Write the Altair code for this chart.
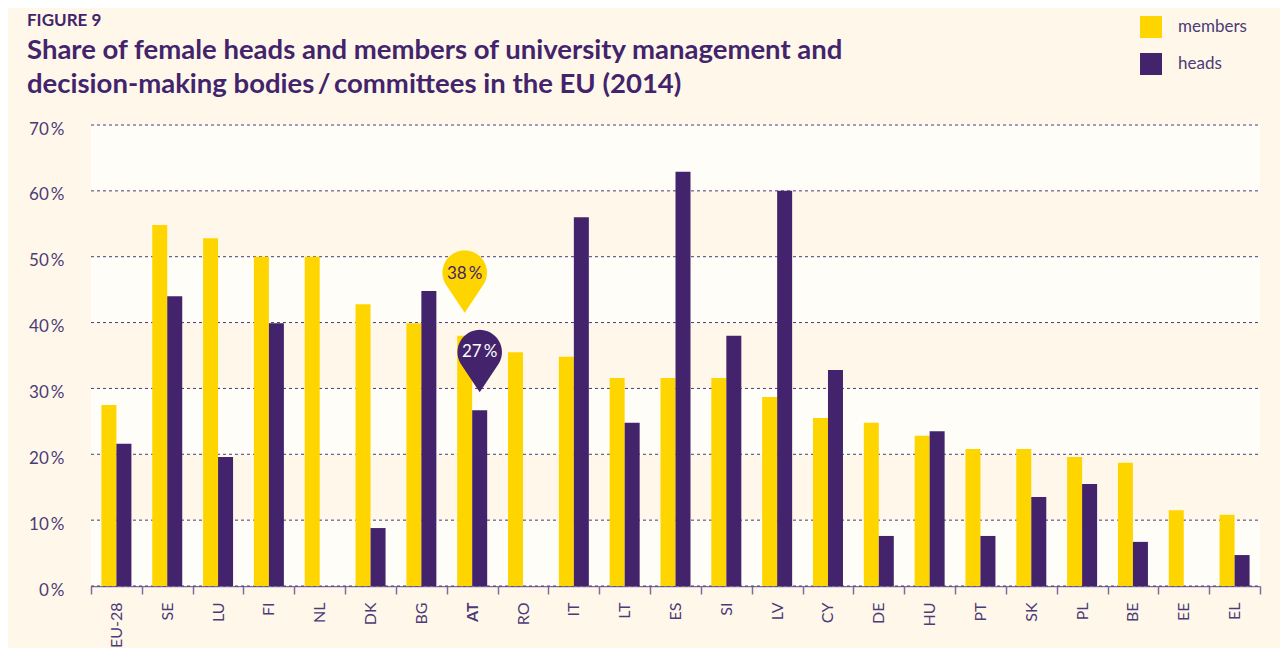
import math
import altair as alt
import pandas as pd

# ---------------- data ----------------
countries = ["EU-28", "SE", "LU", "FI", "NL", "DK", "BG", "AT", "RO", "IT", "LT", "ES",
             "SI", "LV", "CY", "DE", "HU", "PT", "SK", "PL", "BE", "EE", "EL"]
members = [27.5, 54.8, 52.8, 50.0, 50.0, 42.8, 39.9, 38.0, 35.5, 34.8, 31.6, 31.6,
           31.6, 28.7, 25.5, 24.8, 22.8, 20.8, 20.8, 19.6, 18.7, 11.5, 10.8]
heads = [21.6, 44.0, 19.6, 39.9, None, 8.8, 44.8, 26.7, None, 56.0, 24.8, 62.9,
         38.0, 60.0, 32.8, 7.6, 23.5, 7.6, 13.5, 15.5, 6.7, None, 4.7]
series_names = ["members", "heads"]
y_ticks = [0, 10, 20, 30, 40, 50, 60, 70]
band_lo = [0, 20, 40, 60]
band_hi = [10, 30, 50, 70]
pin_country = ["AT", "AT"]
pin_series = ["members", "heads"]
pin_value = [38.0, 26.7]
pin_label = ["38\u2009%", "27\u2009%"]
fig_label = "FIGURE 9"
title_lines = ["Share of female heads and members of university management and",
               "decision-making bodies\u2009/\u2009committees in the EU (2014)"]

# ---------------- styles ----------------
BG = "#FFF8EA"
WHITE = "#FFFDF8"
YELLOW = "#FFD500"
PURPLE = "#43246C"
TEXT = "#4C3B77"
AXIS = "#7D6D9D"
FONT = "Lato"
W, H = 1169, 461

rows = []
for c, m, h in zip(countries, members, heads):
    rows.append({"country": c, "series": "members", "value": m})
    if h is not None:
        rows.append({"country": c, "series": "heads", "value": h})
bars_df = pd.DataFrame(rows)
bands_df = pd.DataFrame({"value": band_lo, "hi": band_hi})
grid_df = pd.DataFrame({"value": y_ticks})
pins_df = pd.DataFrame({"country": pin_country, "series": pin_series,
                        "value": pin_value, "label": pin_label})

# teardrop pin shape, tip at origin (unit = circle radius)
d = 1.8
a0 = math.degrees(math.acos(1 / d))
start = 90 + a0
end = 360 + 90 - a0
pts = ["M0,0"]
N = 48
for k in range(N + 1):
    a = math.radians(start + k * (end - start) / N)
    pts.append(f"L{math.cos(a):.4f},{-d + math.sin(a):.4f}")
pin_shape = " ".join(pts) + " Z"

yscale = alt.Scale(domain=[0, 70], nice=False, zero=True)
xscale = alt.Scale(domain=countries, paddingInner=0, paddingOuter=0)
xoff = alt.XOffset("series:N", sort=series_names,
                   scale=alt.Scale(domain=series_names, paddingInner=0, paddingOuter=0.694))

x_axis = alt.Axis(
    title=None, labelAngle=-90, labelFontSize=16, labelColor=TEXT, labelFont=FONT,
    labelPadding=8, tickBand="extent", tickSize=8, tickColor=AXIS, tickWidth=1.5,
    domainColor=AXIS, domainWidth=1.5, grid=False,
    labelFontWeight={"condition": {"test": "datum.value === 'AT'", "value": "bold"},
                     "value": "normal"},
)
y_axis = alt.Axis(
    title=None, values=y_ticks, labelExpr="datum.value + '\u2009%'", grid=False,
    ticks=False, domain=False, labelPadding=27, labelFontSize=17, labelColor=TEXT,
    labelFont=FONT, labelOffset=4,
)
x_enc = alt.X("country:N", sort=countries, scale=xscale, axis=x_axis)
y_enc = alt.Y("value:Q", scale=yscale, axis=y_axis)

bands = alt.Chart(bands_df).mark_rect(color=WHITE).encode(
    y=y_enc, y2="hi:Q", x=alt.value(0), x2=alt.value(W),
)
grid = alt.Chart(grid_df).mark_rule(color=TEXT, strokeDash=[3, 3], strokeWidth=1).encode(
    y=y_enc, x=alt.value(0), x2=alt.value(W),
)
bars = alt.Chart(bars_df).mark_bar().encode(
    x=x_enc, xOffset=xoff, y=y_enc,
    color=alt.Color(
        "series:N", sort=series_names,
        scale=alt.Scale(domain=series_names, range=[YELLOW, PURPLE]),
        legend=alt.Legend(
            title=None, orient="none", legendX=1049, legendY=-109, symbolType="square",
            symbolSize=484, symbolStrokeWidth=0, symbolOpacity=1, labelFontSize=17,
            labelColor=TEXT, labelFont=FONT, rowPadding=15, labelOffset=16, padding=0,
        ),
    ),
)

pin_y = alt.Chart(pins_df[pins_df.series == "members"]).mark_point(
    shape=pin_shape, size=1980, filled=True, fill=YELLOW, opacity=1, strokeWidth=0, yOffset=-23
).encode(x=x_enc, xOffset=xoff, y=y_enc)
pin_p = alt.Chart(pins_df[pins_df.series == "heads"]).mark_point(
    shape=pin_shape, size=1980, filled=True, fill=PURPLE, opacity=1, strokeWidth=0, yOffset=-18
).encode(x=x_enc, xOffset=xoff, y=y_enc)
pin_ty = alt.Chart(pins_df[pins_df.series == "members"]).mark_text(
    dy=-62, fontSize=17, font=FONT, color=PURPLE, baseline="middle"
).encode(x=x_enc, xOffset=xoff, y=y_enc, text="label:N")
pin_tp = alt.Chart(pins_df[pins_df.series == "heads"]).mark_text(
    dy=-58, fontSize=17, font=FONT, color="#FFFFFF", baseline="middle"
).encode(x=x_enc, xOffset=xoff, y=y_enc, text="label:N")

fig_t = alt.Chart(pd.DataFrame({"t": [fig_label]})).mark_text(
    align="left", baseline="alphabetic", fontSize=17, fontWeight="bold", font=FONT, color=PURPLE
).encode(x=alt.value(-64), y=alt.value(-99), text="t:N")
t1 = alt.Chart(pd.DataFrame({"t": [title_lines[0]]})).mark_text(
    align="left", baseline="alphabetic", fontSize=27.5, fontWeight="bold", font=FONT, color=PURPLE
).encode(x=alt.value(-64), y=alt.value(-66), text="t:N")
t2 = alt.Chart(pd.DataFrame({"t": [title_lines[1]]})).mark_text(
    align="left", baseline="alphabetic", fontSize=27.5, fontWeight="bold", font=FONT, color=PURPLE
).encode(x=alt.value(-64), y=alt.value(-32), text="t:N")

chart = alt.layer(bands, grid, bars, pin_y, pin_p, pin_ty, pin_tp, fig_t, t1, t2).properties(
    width=W, height=H,
    autosize=alt.AutoSizeParams(type="none"),
    padding={"left": 83, "top": 117, "right": 20, "bottom": 62},
    background=BG,
).configure_view(stroke=None)

chart.save("out.html", embed_options={"renderer": "svg", "actions": False})
